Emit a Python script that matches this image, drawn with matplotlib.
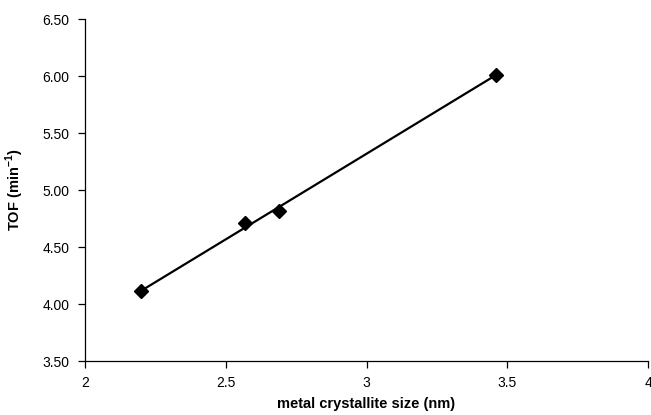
import numpy as np
import matplotlib.pyplot as plt
from matplotlib.ticker import FormatStrFormatter

# --------------------------------------------
# Data
# --------------------------------------------

crystallite_size = [2.20, 2.57, 2.69, 3.46]   # nm
tof = [4.11, 4.71, 4.82, 6.01]                # min^-1

x_ticks = [2, 2.5, 3, 3.5, 4]
y_ticks = [3.50, 4.00, 4.50, 5.00, 5.50, 6.00, 6.50]

plt.rcParams["font.family"] = ["Liberation Sans", "DejaVu Sans"]
plt.rcParams["mathtext.fontset"] = "custom"
plt.rcParams["mathtext.bf"] = "Liberation Sans:bold"
plt.rcParams["mathtext.rm"] = "Liberation Sans"

# linear trendline over the measured range
slope, intercept = np.polyfit(crystallite_size, tof, 1)
fit_x = np.array([min(crystallite_size), max(crystallite_size)])
fit_y = slope * fit_x + intercept

# --------------------------------------------
# Graph
# --------------------------------------------

fig = plt.figure(figsize=(6.51, 4.15), dpi=100)
ax = fig.add_axes([0.1306, 0.1301, 0.8648, 0.8241])

ax.plot(fit_x, fit_y, color="black", linewidth=1.6, zorder=2)
ax.plot(crystallite_size, tof, linestyle="none", marker="D",
        markersize=7, color="black", zorder=3)

ax.set_xlim(2, 4)
ax.set_ylim(3.5, 6.5)
ax.set_xticks(x_ticks)
ax.set_yticks(y_ticks)
ax.set_xticklabels(["2", "2.5", "3", "3.5", "4"])
ax.yaxis.set_major_formatter(FormatStrFormatter("%.2f"))

for side in ["top", "right"]:
    ax.spines[side].set_visible(False)
for side in ["left", "bottom"]:
    ax.spines[side].set_linewidth(0.9)

ax.tick_params(direction="out", length=5, width=0.9, labelsize=10, pad=6)

ax.set_xlabel("metal crystallite size (nm)", fontsize=10.5,
              fontweight="bold", labelpad=5)
ax.set_ylabel("TOF (min$^{\\mathbf{-1}}$)", fontsize=10.5,
              fontweight="bold", labelpad=12)

fig.savefig("out.png", dpi=100)
plt.close(fig)
